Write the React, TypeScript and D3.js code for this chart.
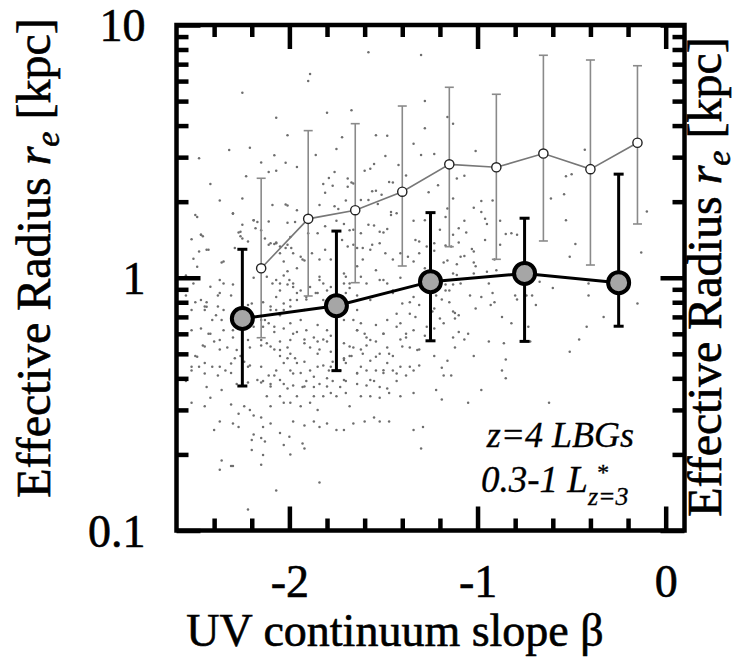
import React, { useEffect, useRef } from 'react';
import * as d3 from 'd3';

const W = 739;
const H = 657;
const FONT = '"Liberation Serif", "Times New Roman", serif';

const xDomain: [number, number] = [-2.6, 0.1];
const yDomain: [number, number] = [0.1, 10];
const xMajorTicks = [-2, -1, 0];
const xTickLabels = ['-2', '-1', '0'];
const xMinorTicks = [-2.4, -2.2, -1.8, -1.6, -1.4, -1.2, -0.8, -0.6, -0.4, -0.2];
const yMajorTicks = [0.1, 1, 10];
const yTickLabels = ['0.1', '1', '10'];
const yMinorTicks = [0.2, 0.3, 0.4, 0.5, 0.6, 0.7, 0.8, 0.9, 2, 3, 4, 5, 6, 7, 8, 9];

// binned medians, 0.3-1 L* sample (black points)
const binBeta = [-2.25, -1.75, -1.25, -0.75, -0.25];
const binRe = [0.69, 0.775, 0.965, 1.04, 0.956];
const binLo = [0.373, 0.429, 0.563, 0.56, 0.643];
const binHi = [1.296, 1.53, 1.81, 1.72, 2.57];

// binned medians, full sample (open grey points)
const allBeta = [-2.15, -1.9, -1.65, -1.4, -1.15, -0.9, -0.65, -0.4, -0.15];
const allRe = [1.09, 1.71, 1.85, 2.19, 2.81, 2.735, 3.1, 2.69, 3.42];
const allLo = [0.579, 0.847, 0.956, 1.113, 1.327, 1.183, 1.398, 1.123, 1.632];
const allHi = [2.475, 3.82, 4.07, 4.78, 5.67, 5.32, 7.59, 7.27, 6.9];

// individual galaxies [beta, r_e]
const scatter: [number, number][] = [
  [-1.58,7.8],[-1.30,7.6],[-1.89,6.4],[-1.90,6.0],[-2.25,5.4],[-1.28,5.0],[-1.80,4.5],[-1.67,4.6],[-2.07,4.3],[-2.01,3.66],
  [-1.72,3.6],[-1.54,3.66],[-1.48,3.65],[-2.32,3.2],[-2.21,3.27],[-1.75,3.23],[-1.34,3.39],[-2.48,2.97],[-2.08,3.05],[-1.86,3.06],
  [-2.15,2.86],[-2.02,2.85],[-1.96,2.74],[-1.49,3.03],[-1.30,3.06],[-1.28,3.9],[-2.23,2.52],[-2.11,2.62],[-2.07,2.65],[-2.42,2.35],
  [-1.82,2.35],[-1.79,2.48],[-1.76,2.62],[-1.69,2.47],[-1.67,2.38],[-1.60,2.65],[-1.57,2.70],[-1.55,2.82],[-1.81,2.17],[-1.77,2.31],
  [-1.69,2.29],[-1.66,2.36],[-1.56,2.20],[-1.54,2.21],[-1.51,2.13],[-1.47,2.39],[-1.45,2.38],[-1.38,2.54],[-1.42,2.79],[-1.26,2.18],
  [-2.37,2.02],[-2.25,2.06],[-2.09,1.94],[-2.02,1.95],[-2.01,1.93],[-1.96,1.85],[-1.84,1.94],[-1.76,1.92],[-1.74,1.87],[-1.70,2.02],
  [-1.62,2.03],[-1.58,2.03],[-1.53,1.96],[-1.46,1.82],[-1.43,1.80],[-1.34,1.68],[-1.28,1.69],[-2.49,1.74],[-2.30,1.79],[-2.19,1.69],
  [-2.17,1.66],[-2.11,1.67],[-2.01,1.65],[-1.97,1.66],[-1.85,1.50],[-1.90,1.50],[-1.81,1.60],[-1.75,1.68],[-1.71,1.63],[-1.68,1.54],
  [-1.66,1.55],[-1.62,1.50],[-1.58,1.62],[-1.55,1.61],[-1.52,1.52],[-1.50,1.51],[-1.48,1.56],[-1.46,1.77],[-1.33,1.41],[-1.31,1.39],
  [-1.27,1.33],[-2.52,1.42],[-2.47,1.48],[-2.46,1.46],[-2.48,1.27],[-2.43,1.29],[-2.51,1.19],[-2.36,1.15],[-2.29,1.31],[-2.27,1.51],
  [-2.26,1.46],[-2.25,1.43],[-2.15,1.54],[-2.13,1.43],[-2.11,1.35],[-2.08,1.36],[-2.07,1.38],[-2.05,1.33],[-2.01,1.35],[-1.99,1.31],
  [-1.98,1.25],[-1.94,1.21],[-1.92,1.17],[-1.88,1.25],[-1.84,1.18],[-1.81,1.29],[-1.78,1.18],[-1.72,1.41],[-1.69,1.33],[-1.66,1.35],
  [-1.64,1.31],[-1.61,1.31],[-1.56,1.35],[-1.52,1.37],[-1.49,1.25],[-1.45,1.18],[-1.41,1.25],[-1.37,1.21],[-1.34,1.16],[-1.31,1.25],
  [-1.28,1.09],
  [-1.16,4.33],[-1.13,4.07],[-1.23,3.09],[-1.01,3.17],[-1.21,2.32],[-1.11,2.47],[-1.07,2.53],[-0.43,3.21],[-0.50,2.57],[-0.53,2.52],
  [-0.54,2.14],[-0.61,2.06],[-0.10,1.83],[-0.13,1.26],[-1.13,2.06],[-1.16,1.88],[-1.17,1.74],[-1.20,1.55],[-1.13,1.48],[-1.10,1.57],
  [-1.07,1.68],[-1.06,1.51],[-1.10,1.38],[-1.17,1.34],[-1.14,1.33],[-1.23,1.28],[-1.09,1.21],[-1.03,1.30],[-1.02,1.27],[-1.18,1.15],
  [-1.16,1.17],[-1.11,1.13],[-1.07,1.22],[-1.02,1.15],[-1.01,1.11],[-1.02,1.89],[-0.98,1.82],[-0.98,2.01],[-0.92,2.02],[-0.96,1.71],
  [-0.95,1.63],[-0.96,1.41],[-0.88,1.68],[-0.88,1.35],[-0.91,1.18],[-0.85,1.49],[-0.82,1.50],[-0.79,1.48],[-0.53,1.69],[-0.48,1.36],
  [-0.51,1.21],[-1.23,1.37],
  [-2.55,1.02],[-2.51,0.95],[-2.35,0.95],[-2.30,0.94],[-2.31,0.85],[-2.38,0.85],[-2.37,0.87],[-2.19,1.00],[-2.12,1.01],[-2.09,0.95],
  [-2.07,0.98],[-2.05,0.89],[-2.03,1.02],[-2.01,0.94],[-1.98,0.95],[-1.96,0.87],[-1.94,0.89],[-1.91,0.82],[-1.86,0.87],[-1.84,1.01],
  [-1.82,0.95],[-1.80,0.89],[-1.71,0.95],[-1.70,1.01],[-1.70,0.87],[-1.68,0.91],[-1.64,0.85],[-1.62,1.01],[-1.59,0.95],[-1.56,0.84],
  [-1.52,0.98],[-1.48,0.95],[-1.45,0.89],[-1.41,1.00],[-1.36,0.80],[-1.34,0.84],[-1.31,0.78],[-2.55,0.85],[-2.50,0.80],[-2.45,0.77],
  [-2.44,0.80],[-2.38,0.77],[-2.35,0.745],[-2.22,0.78],[-2.20,0.79],[-2.14,0.80],[-2.10,0.77],[-2.07,0.745],[-2.03,0.79],[-1.995,0.77],
  [-2.45,0.745],[-2.39,0.71],[-2.36,0.68],[-2.47,0.63],[-2.41,0.68],[-2.35,0.62],[-2.30,0.58],[-2.30,0.62],[-2.15,0.68],[-2.14,0.64],
  [-2.11,0.66],[-2.08,0.61],[-2.05,0.71],[-2.03,0.63],[-1.995,0.66],[-1.98,0.60],[-1.96,0.61],[-1.94,0.68],[-1.91,0.62],[-1.87,0.58],
  [-1.85,0.65],[-1.80,0.62],[-1.78,0.59],[-1.82,0.57],[-1.66,0.68],[-1.64,0.62],[-1.62,0.66],[-1.60,0.60],[-1.59,0.58],[-1.54,0.65],
  [-1.50,0.60],[-1.48,0.68],[-1.43,0.72],[-1.41,0.66],[-1.38,0.58],[-1.34,0.62],[-1.33,0.70],[-1.27,0.64],[-2.52,0.62],[-2.43,0.60],
  [-2.46,0.54],[-2.40,0.56],[-2.50,0.49],[-2.37,0.52],[-2.33,0.53],[-2.29,0.48],[-2.26,0.49],[-2.21,0.53],[-2.15,0.54],[-2.12,0.55],
  [-2.08,0.52],[-2.05,0.56],[-2.01,0.53],[-1.995,0.50],[-1.97,0.48],[-1.92,0.57],[-1.89,0.53],[-1.85,0.56],[-1.84,0.52],[-1.80,0.56],
  [-1.78,0.51],[-1.75,0.52],[-1.71,0.55],[-1.68,0.49],[-1.66,0.53],[-1.62,0.52],[-1.59,0.54],[-1.54,0.56],[-1.52,0.50],[-1.48,0.53],
  [-1.45,0.49],[-1.41,0.57],[-1.36,0.53],[-1.31,0.52],[-1.28,0.59],
  [-2.52,0.43],[-2.48,0.445],[-2.45,0.46],[-2.41,0.445],[-2.38,0.41],[-2.34,0.43],[-2.31,0.42],[-2.24,0.465],[-2.21,0.45],[-2.15,0.445],
  [-2.14,0.39],[-2.11,0.41],[-2.10,0.38],[-2.07,0.43],[-2.05,0.49],[-2.03,0.46],[-2.01,0.48],[-1.995,0.43],[-1.96,0.46],[-1.94,0.42],
  [-1.92,0.465],[-1.89,0.43],[-1.85,0.445],[-1.82,0.45],[-1.79,0.43],[-1.77,0.465],[-1.73,0.43],[-1.71,0.48],[-1.70,0.46],[-1.67,0.49],
  [-1.64,0.42],[-1.62,0.445],[-1.59,0.43],[-1.57,0.47],[-1.54,0.43],[-1.50,0.42],[-1.48,0.46],[-1.45,0.43],[-1.41,0.445],[-1.38,0.41],
  [-1.34,0.43],[-1.31,0.45],[-2.55,0.39],[-2.44,0.37],[-2.36,0.36],[-2.28,0.38],[-2.22,0.385],[-2.15,0.385],[-2.08,0.41],[-2.03,0.38],
  [-2.01,0.365],[-1.98,0.375],[-1.93,0.37],[-1.91,0.39],[-1.87,0.37],[-1.84,0.38],[-1.80,0.40],[-1.77,0.39],[-1.73,0.37],[-1.70,0.39],
  [-1.64,0.38],[-1.59,0.375],[-1.55,0.39],[-1.52,0.37],[-1.48,0.365],[-1.43,0.39],
  [-2.42,0.335],[-2.52,0.32],[-2.45,0.31],[-2.37,0.27],[-2.31,0.315],[-2.27,0.29],[-2.24,0.31],[-2.21,0.30],[-2.19,0.285],[-2.15,0.28],
  [-2.12,0.34],[-2.10,0.31],[-2.05,0.34],[-2.03,0.32],[-1.995,0.32],[-1.96,0.34],[-1.94,0.31],[-1.89,0.32],[-1.87,0.34],[-1.85,0.30],
  [-1.82,0.34],[-1.78,0.35],[-1.75,0.34],[-1.70,0.35],[-1.68,0.31],[-1.62,0.34],[-1.57,0.34],[-1.52,0.335],[-1.47,0.35],[-1.41,0.34],
  [-1.34,0.35],[-2.40,0.25],[-2.30,0.265],[-2.27,0.257],[-2.19,0.24],[-2.14,0.257],[-2.10,0.265],[-2.05,0.243],[-2.00,0.235],[-1.98,0.27],
  [-1.92,0.26],[-1.87,0.27],[-1.84,0.257],[-1.80,0.265],[-1.75,0.25],[-1.71,0.25],[-1.66,0.265],[-1.60,0.27],[-1.55,0.28],[-1.52,0.27],
  [-1.47,0.27],[-1.34,0.25],[-1.29,0.257],
  [-2.20,0.228],[-2.15,0.232],[-2.13,0.225],[-2.03,0.218],[-1.93,0.221],[-1.92,0.211],[-1.995,0.20],[-2.20,0.208],[-2.14,0.199],[-2.36,0.189],
  [-2.37,0.174],[-2.31,0.18],[-2.30,0.18],[-2.15,0.182],[-1.84,0.155],[-2.07,0.144],[-2.22,0.121],[-1.30,0.211],
  [-1.13,1.04],[-1.11,1.025],[-1.09,0.95],[-1.02,1.04],[-0.95,1.055],[-0.90,1.07],[-1.17,0.94],[-1.13,0.94],[-1.15,0.89],[-1.17,0.89],
  [-1.22,0.85],[-1.19,0.82],[-1.15,0.80],[-1.04,0.85],[-0.98,0.84],[-0.92,0.87],[-0.94,0.95],[-0.91,0.80],[-0.93,0.78],[-0.80,0.85],
  [-0.79,0.82],[-0.74,0.85],[-0.71,0.85],[-0.69,0.78],[-0.67,0.965],[-0.60,0.91],[-0.41,0.95],[-0.41,0.85],[-0.15,0.79],[-1.23,0.755],
  [-1.24,0.735],[-1.12,0.725],[-1.10,0.71],[-1.12,0.69],[-1.13,0.735],[-1.01,0.755],[-1.20,0.69],[-1.18,0.66],[-1.25,0.66],[-1.23,0.63],
  [-1.10,0.61],[-1.05,0.60],[-1.13,0.58],[-1.07,0.57],[-0.94,0.56],[-0.86,0.55],[-0.87,0.70],[-0.82,0.66],[-0.73,0.64],[-0.72,0.56],
  [-0.42,0.64],[-0.33,0.70],[-0.46,0.57],[-0.51,0.51],[-1.23,0.49],[-1.16,0.47],[-1.12,0.53],[-1.02,0.49],[-0.85,0.475],[-1.19,0.44],
  [-1.14,0.41],[-1.18,0.41],[-1.22,0.36],[-0.98,0.36],[-0.87,0.43],[-0.85,0.40],[-1.05,0.32],[-1.19,0.33],[-0.62,0.32],
  [-2.50,1.77],[-2.47,1.48],[-2.44,1.29],[-2.35,1.16],[-2.30,1.80],[-2.26,1.52],[-2.25,1.62],[-2.22,1.39],[-2.19,1.69],[-2.18,1.57],
  [-2.10,1.37],[-2.07,1.37],[-2.05,1.25],[-2.02,1.31],[-1.995,1.45],[-2.03,1.16],[-2.01,1.06],[-1.96,1.09],[-1.93,1.18],[-2.00,0.98],
  [-1.98,0.92],[-2.05,0.95],[-2.07,0.84],[-2.10,0.745],[-2.13,0.68],[-2.08,0.64],[-2.03,0.745],[-1.995,0.816],[-1.96,0.816],[-1.92,0.745],
  [-1.91,0.84],[-1.89,0.92],[-1.84,0.98],[-1.85,0.87],[-1.82,0.816],[-1.78,0.92],[-1.71,1.04],[-1.68,0.95],[-1.64,1.11],[-1.61,1.18],
  [-1.57,1.29],[-1.54,1.07],[-1.50,0.98],[-1.45,0.87],[-1.40,0.79],[-1.36,0.72],[-1.57,0.816],[-1.64,0.745],[-1.71,0.68],[-1.64,0.62],
  [-1.57,0.567],[-1.50,0.60],[-1.43,0.64],[-1.40,0.534],[-1.47,0.50],[-1.54,0.487],[-1.61,0.50],[-1.68,0.534],[-1.71,0.473],[-1.78,0.445],
  [-1.85,0.50],[-1.92,0.55],[-1.995,0.567],[-2.05,0.518],[-2.10,0.534],[-2.15,0.567],[-2.19,0.64],[-2.22,0.567],[-2.28,0.518],[-2.37,0.567],
  [-2.42,0.60],[-2.45,0.534],[-2.49,0.487],[-2.52,0.445],[-2.45,0.418],[-2.37,0.445],[-2.31,0.458],[-2.22,0.445],[-2.17,0.394],[-2.10,0.371],
  [-2.05,0.394],[-1.98,0.418],[-1.92,0.371],[-1.87,0.406],[-1.80,0.371],[-1.71,0.394],[-1.64,0.418],[-1.57,0.394],[-1.50,0.431],[-1.43,0.418],
  [-1.36,0.445],[-1.32,0.518],[-1.38,0.60],[-2.47,0.816],[-2.52,0.745],[-2.44,0.768],[-2.42,0.922],[-2.37,0.98],[-2.49,1.106],
];

export default function App() {
  const ref = useRef<SVGSVGElement>(null);

  useEffect(() => {
    const svg = d3.select(ref.current);
    svg.selectAll('*').remove();

    const left = 176.5, right = 684.5, top = 25, bottom = 530.5;
    const x = d3.scaleLinear().domain(xDomain).range([left, right]);
    const y = d3.scaleLog().domain(yDomain).range([bottom, top]);

    svg.append('rect').attr('width', W).attr('height', H).attr('fill', '#fff');

    // scatter
    svg.append('g')
      .selectAll('circle')
      .data(scatter)
      .join('circle')
      .attr('cx', (d) => x(d[0]))
      .attr('cy', (d) => y(d[1]))
      .attr('r', 1.25)
      .attr('fill', '#6e6e6e');

    // grey full-sample series
    const gAll = svg.append('g');
    const allIdx = d3.range(allBeta.length);
    gAll.selectAll('line.eb').data(allIdx).join('line')
      .attr('x1', (i) => x(allBeta[i])).attr('x2', (i) => x(allBeta[i]))
      .attr('y1', (i) => y(allLo[i])).attr('y2', (i) => y(allHi[i]))
      .attr('stroke', '#8a8a8a').attr('stroke-width', 1.6);
    for (const arr of [allLo, allHi]) {
      gAll.append('g').selectAll('line').data(allIdx).join('line')
        .attr('x1', (i) => x(allBeta[i]) - 4.5).attr('x2', (i) => x(allBeta[i]) + 4.5)
        .attr('y1', (i) => y(arr[i])).attr('y2', (i) => y(arr[i]))
        .attr('stroke', '#8a8a8a').attr('stroke-width', 1.6);
    }
    gAll.append('path')
      .attr('d', d3.line<number>().x((i) => x(allBeta[i])).y((i) => y(allRe[i]))(allIdx))
      .attr('fill', 'none').attr('stroke', '#777').attr('stroke-width', 1.6);
    gAll.append('g').selectAll('circle').data(allIdx).join('circle')
      .attr('cx', (i) => x(allBeta[i])).attr('cy', (i) => y(allRe[i]))
      .attr('r', 4.6).attr('fill', '#fff').attr('stroke', '#222').attr('stroke-width', 1.4);

    // black bin series
    const gBin = svg.append('g');
    const binIdx = d3.range(binBeta.length);
    gBin.selectAll('line.eb').data(binIdx).join('line')
      .attr('x1', (i) => x(binBeta[i])).attr('x2', (i) => x(binBeta[i]))
      .attr('y1', (i) => y(binLo[i])).attr('y2', (i) => y(binHi[i]))
      .attr('stroke', '#000').attr('stroke-width', 3);
    for (const arr of [binLo, binHi]) {
      gBin.append('g').selectAll('line').data(binIdx).join('line')
        .attr('x1', (i) => x(binBeta[i]) - 5).attr('x2', (i) => x(binBeta[i]) + 5)
        .attr('y1', (i) => y(arr[i])).attr('y2', (i) => y(arr[i]))
        .attr('stroke', '#000').attr('stroke-width', 3);
    }
    gBin.append('path')
      .attr('d', d3.line<number>().x((i) => x(binBeta[i])).y((i) => y(binRe[i]))(binIdx))
      .attr('fill', 'none').attr('stroke', '#000').attr('stroke-width', 3);
    gBin.append('g').selectAll('circle').data(binIdx).join('circle')
      .attr('cx', (i) => x(binBeta[i])).attr('cy', (i) => y(binRe[i]))
      .attr('r', 10.5).attr('fill', '#a6a6a6').attr('stroke', '#000').attr('stroke-width', 4);

    // ticks on all four sides
    const styleTicks = (g: any) => {
      g.select('.domain').remove();
      g.selectAll('.tick line').attr('stroke', '#000').attr('stroke-width', 4.5);
      g.selectAll('.tick text').remove();
    };
    const axes: [any, string][] = [
      [d3.axisBottom(x), `translate(0,${bottom})`],
      [d3.axisTop(x), `translate(0,${top})`],
    ];
    for (const [ax, tr] of axes) {
      svg.append('g').attr('transform', tr).call(ax.tickValues(xMajorTicks).tickSize(-24)).call(styleTicks);
      svg.append('g').attr('transform', tr).call(ax.tickValues(xMinorTicks).tickSize(-12)).call(styleTicks);
    }
    const yAxes: [any, string][] = [
      [d3.axisLeft(y), `translate(${left},0)`],
      [d3.axisRight(y), `translate(${right},0)`],
    ];
    for (const [ax, tr] of yAxes) {
      svg.append('g').attr('transform', tr).call(ax.tickValues(yMajorTicks).tickSize(-24)).call(styleTicks);
      svg.append('g').attr('transform', tr).call(ax.tickValues(yMinorTicks).tickSize(-12)).call(styleTicks);
    }

    // frame
    svg.append('rect')
      .attr('x', left).attr('y', top).attr('width', right - left).attr('height', bottom - top)
      .attr('fill', 'none').attr('stroke', '#000').attr('stroke-width', 4.5);

    const heavy = (sel: any) => sel.attr('stroke', '#000').attr('stroke-width', 0.6);

    // tick labels
    const xl = svg.append('g').attr('transform', `translate(0,${bottom})`)
      .call(d3.axisBottom(x).tickValues(xMajorTicks).tickSize(0).tickFormat((_d, i) => xTickLabels[i]));
    xl.select('.domain').remove();
    xl.selectAll('text').attr('y', 66.5).attr('dy', null)
      .attr('font-family', FONT).attr('font-size', 46).attr('fill', '#000').call(heavy);

    const yl = svg.append('g').attr('transform', `translate(${left},0)`)
      .call(d3.axisLeft(y).tickValues(yMajorTicks).tickSize(0).tickFormat((_d, i) => yTickLabels[i]));
    yl.select('.domain').remove();
    yl.selectAll('text').attr('x', -31).attr('dy', '0.34em')
      .attr('font-family', FONT).attr('font-size', 46).attr('fill', '#000').call(heavy);

    // axis titles
    svg.append('text')
      .attr('x', 395).attr('y', 646).attr('text-anchor', 'middle')
      .attr('font-family', FONT).attr('font-size', 46).attr('fill', '#000').call(heavy)
      .text('UV continuum slope β');

    const yTitle = (tx: number, ty: number) => {
      const t = svg.append('text')
        .attr('transform', `translate(${tx},${ty}) rotate(-90)`)
        .attr('text-anchor', 'middle')
        .attr('font-family', FONT).attr('font-size', 48).attr('fill', '#000').call(heavy);
      t.append('tspan').text('Effective Radius ');
      t.append('tspan').attr('font-style', 'italic').text('r');
      t.append('tspan').attr('font-style', 'italic').attr('font-size', 34).attr('dy', 9).text('e');
      t.append('tspan').attr('dy', -9).text(' [kpc]');
    };
    yTitle(50, 258);
    yTitle(721, 277);

    // annotation
    const ann = (sel: any) => sel.attr('font-family', FONT).attr('font-style', 'italic').attr('fill', '#000')
      .attr('stroke', '#000').attr('stroke-width', 0.3);
    svg.append('text')
      .attr('x', 634).attr('y', 447).attr('text-anchor', 'end').attr('font-size', 36).call(ann)
      .text('z=4 LBGs');
    const line2 = svg.append('text')
      .attr('x', 481).attr('y', 492).attr('font-size', 37).call(ann);
    line2.append('tspan').text('0.3-1 L');
    line2.append('tspan').attr('font-size', 24).attr('dx', 8).attr('dy', -12).text('*');
    line2.append('tspan').attr('font-size', 26).attr('dx', -20).attr('dy', 25).text('z=3');
  }, []);

  return (
    <svg
      ref={ref}
      width={W}
      height={H}
      style={{ position: 'absolute', left: 0, top: 0, display: 'block' }}
    />
  );
}
